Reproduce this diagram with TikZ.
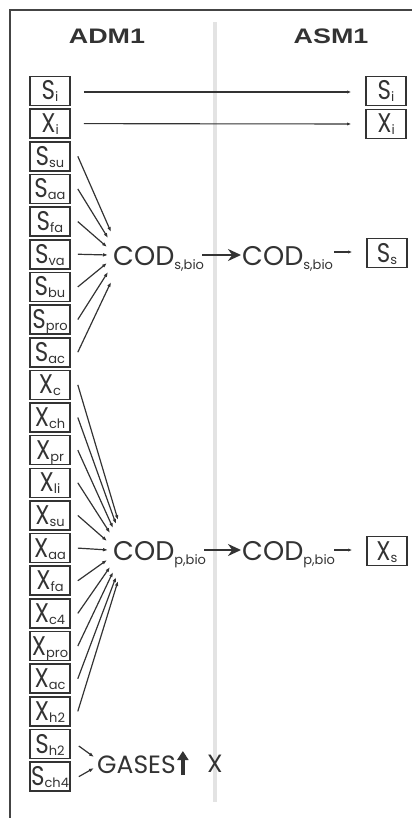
\documentclass[tikz,border=0pt]{standalone}
\usepackage{fontspec}
\setmainfont{Poppins}
\newfontfamily\hdfont{Liberation Sans}
\usetikzlibrary{arrows.meta,calc}
\definecolor{ink}{HTML}{333333}
\definecolor{frame}{HTML}{444444}
\definecolor{divider}{HTML}{E3E3E3}
\newcommand{\sbx}[2]{\scalebox{0.85}[1]{#1}\raisebox{-2pt}{\fontsize{13}{13}\selectfont #2}}
\newcommand{\codsub}[1]{COD\raisebox{-4pt}{\fontsize{13}{13}\selectfont #1}}
\begin{document}
\begin{tikzpicture}[x=1pt,y=-1pt,
  boxst/.style={draw=ink, line width=1.6pt, minimum width=40pt, minimum height=29pt,
    inner sep=0pt, text height=22pt, text depth=4pt, font=\fontsize{27}{27}\selectfont, text=ink},
  hdr/.style={font=\hdfont\bfseries\fontsize{21}{21}\selectfont, text=ink},
  codst/.style={anchor=base west, inner sep=0pt, font=\fontsize{27}{27}\selectfont, text=ink},
  fan/.style={draw=ink, line width=1.2pt, -{Latex[length=5pt,width=3.6pt]}},
  thinarr/.style={draw=ink, line width=1.1pt, -{Latex[length=4pt,width=3.2pt]}},
  bigarr/.style={draw=ink, line width=2.2pt, -{Stealth[length=13pt,width=12pt]}}]
\useasboundingbox (0,0) rectangle (412,818);
% frame and divider
\draw[frame, line width=2pt] (10,818) -- (10,10) -- (412,10);
\draw[divider, line width=4pt] (215,22) -- (215,802);
% headers
\node[hdr] (adm) at (107,36) {\scalebox{1.28}[1]{ADM1}};
\node[hdr] (asm) at (331,36) {\scalebox{1.28}[1]{ASM1}};
% left column boxes
\foreach \n/\l/\s [count=\i from 0] in {si/S/i, xi/X/i, ssu/S/su, saa/S/aa, sfa/S/fa, sva/S/va,
  sbu/S/bu, spro/S/pro, sac/S/ac, xc/X/c, xch/X/ch, xpr/X/pr, xli/X/li, xsu/X/su, xaa/X/aa,
  xfa/X/fa, xcf/X/c4, xpro/X/pro, xac/X/ac, xhh/X/h2, shh/S/h2, sch/S/ch4}
  \node[boxst] (\n) at (50,{91+32.65*\i}) {\sbx{\l}{\s}};
% right column boxes
\node[boxst] (rsi) at (386,91) {\sbx{S}{i}};
\node[boxst] (rxi) at (386,124) {\sbx{X}{i}};
\node[boxst] (rss) at (387,253) {\sbx{S}{s}};
\node[boxst] (rxs) at (387,551) {\sbx{X}{s}};
% inert arrows
\draw[thinarr] ($(si.east)+(13,1)$) -- ($(rsi.west)+(-14,1)$);
\draw[thinarr] ($(xi.east)+(13,0)$) -- ($(rxi.west)+(-14,0)$);
% COD nodes
\node[codst] (cods) at (113,265) {\codsub{s,bio}};
\node[codst] (cods2) at (242,265) {\codsub{s,bio}};
\node[codst] (codp) at (113,560) {\codsub{p,bio}};
\node[codst] (codp2) at (242,560) {\codsub{p,bio}};
\coordinate (fs) at (108,255);
\coordinate (fp) at (108,550);
% fans
\foreach \n/\dx/\dy in {ssu/3/-23, saa/0/-17, sfa/-1/-8, sva/0/0, sbu/-1/8, spro/0/17, sac/3/27}
  \draw[fan] ($(\n.east)+(7,0)$) -- ($(fs)+(\dx,\dy)$);
\foreach \n/\dx/\dy in {xc/10/-30, xch/8/-26, xpr/5/-22, xli/2/-17, xsu/-1/-9, xaa/0/0,
  xfa/-1/10, xcf/2/17, xpro/5/22, xac/8/27, xhh/10/31}
  \draw[fan] ($(\n.east)+(7,0)$) -- ($(fp)+(\dx,\dy)$);
% COD transfers
\draw[bigarr] ($(cods.base east)+(-2,-10)$) -- ($(cods2.base west)+(-1,-10)$);
\draw[bigarr] ($(codp.base east)+(-2,-10)$) -- ($(codp2.base west)+(-1,-10)$);
\draw[thinarr] ($(rss.west)+(-32,-1)$) -- ($(rss.west)+(-14,-1)$);
\draw[thinarr] ($(rxs.west)+(-32,-1)$) -- ($(rxs.west)+(-14,-1)$);
% gases
\node[codst, font=\fontsize{25}{25}\selectfont] (gases) at (97,773) {GASES};
\coordinate (fg) at (94,762);
\draw[fan] ($(shh.east)+(8,2)$) -- ($(fg)+(0,-5)$);
\draw[fan] ($(sch.east)+(8,0)$) -- ($(fg)+(0,6)$);
\coordinate (upb) at ($(gases.base east)+(7,2)$);
\coordinate (upt) at ($(gases.base east)+(7,-22)$);
\draw[ink, line width=3.6pt, -{Triangle[length=9pt,width=11pt]}] (upb) -- (upt);
\node[font=\fontsize{25}{25}\selectfont, text=ink, inner sep=0pt] (xout) at (215,764) {X};
\end{tikzpicture}
\end{document}
